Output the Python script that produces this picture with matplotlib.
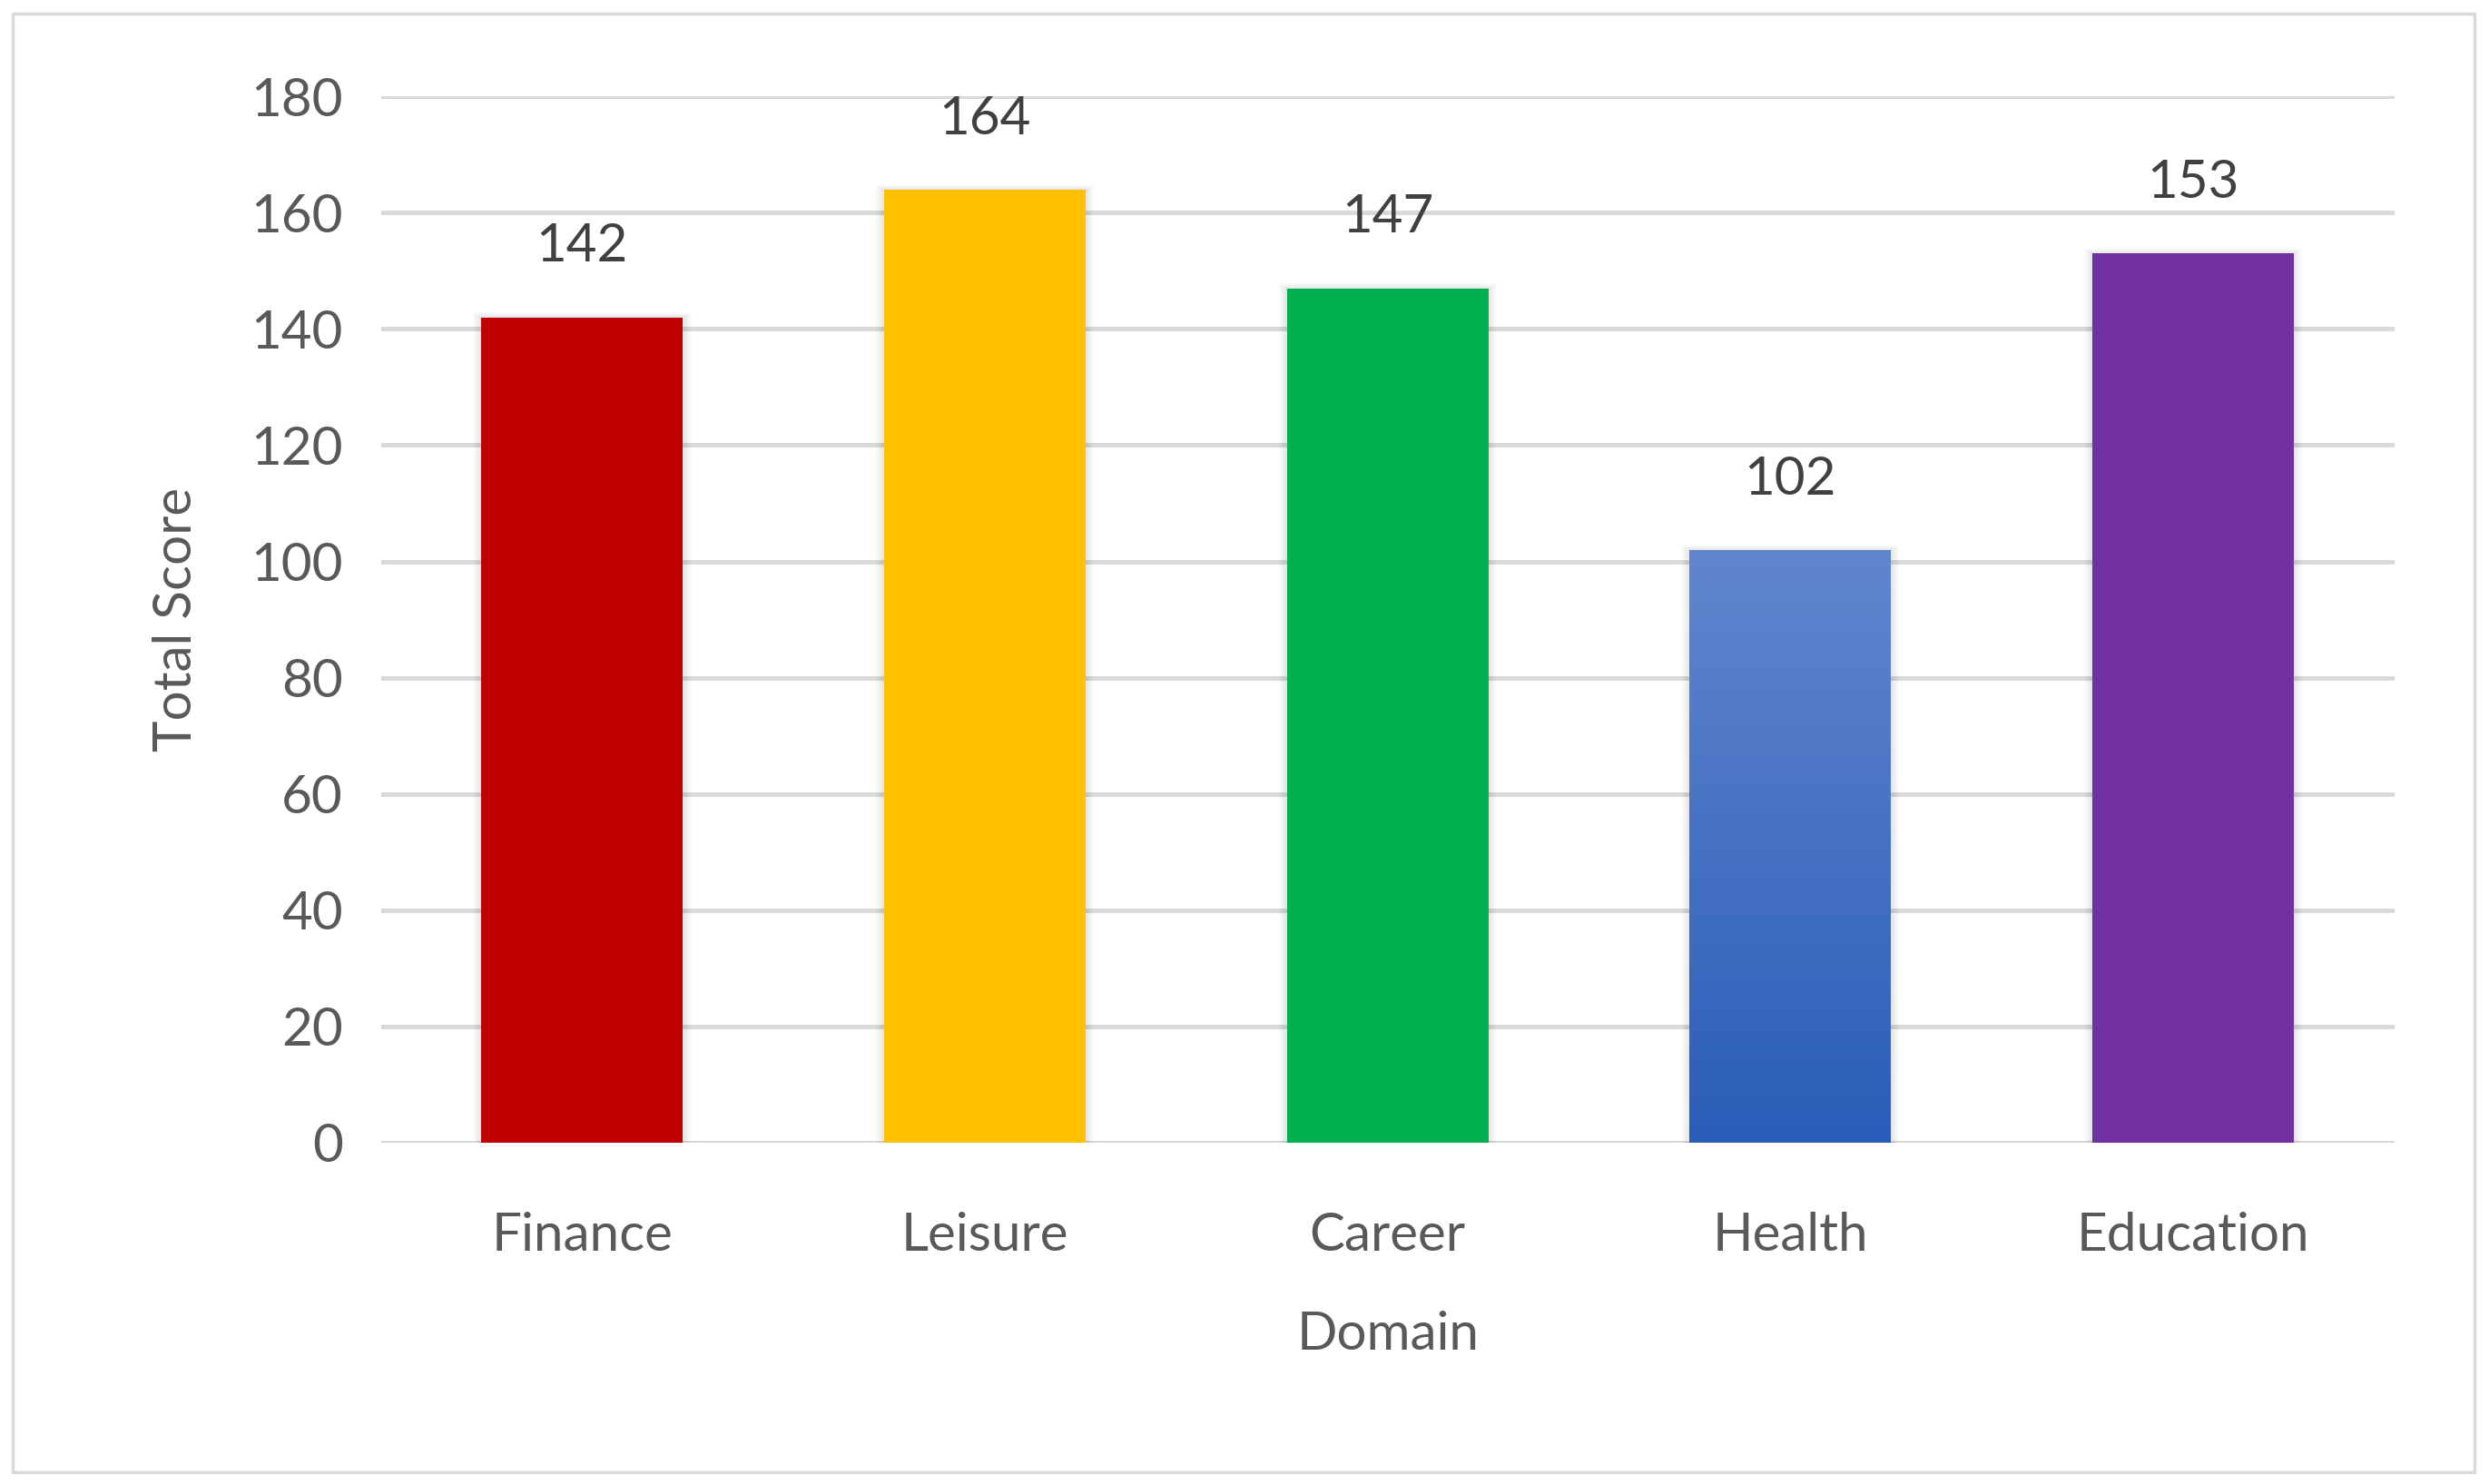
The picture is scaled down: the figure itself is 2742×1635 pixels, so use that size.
import numpy as np
import matplotlib.pyplot as plt
from matplotlib.patches import Rectangle

plt.rcParams['font.family'] = ['Lato', 'DejaVu Sans']

domains = ['Finance', 'Leisure', 'Career', 'Health', 'Education']
scores = [142, 164, 147, 102, 153]
colors = ['#C00000', '#FFC000', '#00B050', '#4472C4', '#7030A0']
yticks = list(range(0, 181, 20))

txt = '#595959'
fig = plt.figure(figsize=(27.42, 16.35), dpi=100)
fig.patches.append(Rectangle((0.005, 0.008), 0.989, 0.983, transform=fig.transFigure,
                             fill=False, edgecolor='#D9D9D9', linewidth=2.5))
ax = fig.add_axes([0.153, 0.230, 0.809, 0.705])

x = np.arange(len(domains))
bars = ax.bar(x, scores, width=0.5, color=colors, zorder=3)

# soft shadow around bars
for b in bars:
    for k in range(1, 6):
        d = 0.004 * k
        ax.add_patch(Rectangle((b.get_x() - d, 0), b.get_width() + 2 * d, b.get_height() + d * 40,
                               facecolor='#000000', alpha=0.02, edgecolor='none', zorder=2))

# gradient for Health
hb = bars[3]
hb.set_facecolor('none')
grad = np.linspace(0, 1, 256).reshape(-1, 1)
from matplotlib.colors import LinearSegmentedColormap
cm = LinearSegmentedColormap.from_list('g', ['#2A5DB8', '#6186CE'])
im = ax.imshow(grad, cmap=cm, origin='lower', aspect='auto', zorder=3,
               extent=[hb.get_x(), hb.get_x() + hb.get_width(), 0, hb.get_height()])
im.set_clip_path(hb)

for xi, s in zip(x, scores):
    ax.text(xi, s + 8, str(s), ha='center', va='bottom', fontsize=42, color='#404040')

ax.set_xlim(-0.5, 4.5)
ax.set_ylim(0, 180)
ax.set_yticks(yticks)
ax.yaxis.grid(True, color='#D9D9D9', linewidth=3.5, zorder=0)
ax.set_axisbelow(True)
for sp in ax.spines.values():
    sp.set_visible(False)
ax.axhline(0, color='#D9D9D9', linewidth=3.5, zorder=1)
ax.set_xticks(x)
ax.set_xticklabels(domains)
ax.tick_params(length=0, labelsize=42, labelcolor=txt, pad=30)
ax.tick_params(axis='x', pad=55)
ax.set_xlabel('Domain', fontsize=42, color=txt, labelpad=40)
ax.set_ylabel('Total Score', fontsize=42, color=txt, labelpad=40)

fig.savefig('out.png', dpi=100)
